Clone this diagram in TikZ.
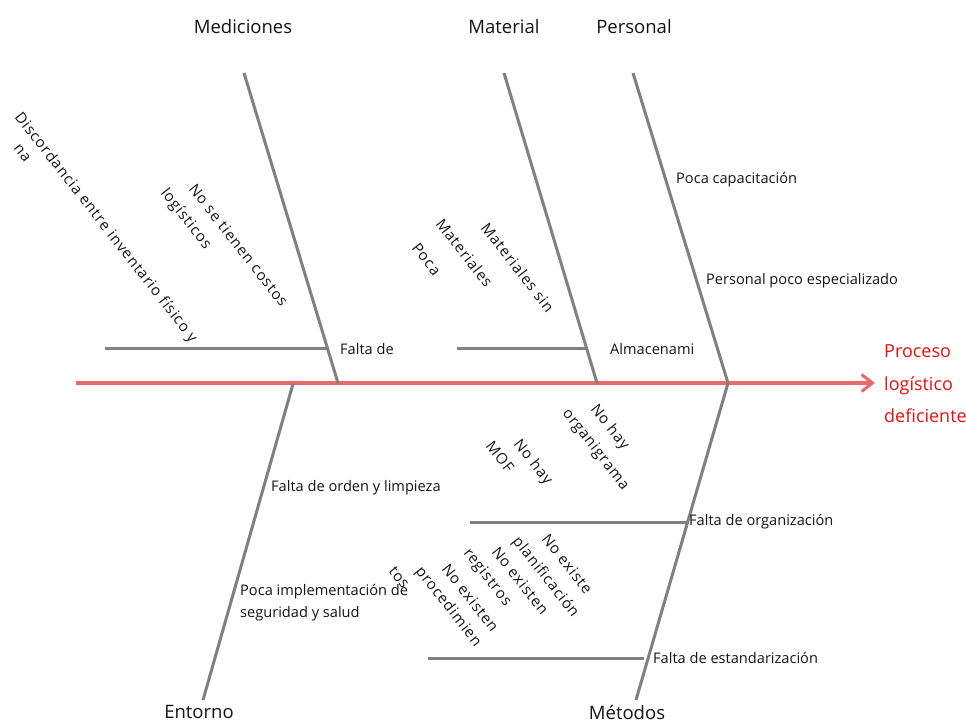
\documentclass[tikz,border=0pt]{standalone}
\usepackage{fontspec}
\setmainfont{Open Sans}
\usetikzlibrary{arrows.meta}
\definecolor{bonegray}{RGB}{128,128,128}
\definecolor{spinered}{RGB}{232,106,106}
\definecolor{effectred}{RGB}{226,18,18}
\definecolor{ink}{RGB}{20,20,20}
\tikzset{
  bone/.style={draw=bonegray, line width=3pt},
  spine/.style={draw=spinered, line width=3.2pt, -{Straight Barb[length=11pt,width=17pt,line width=3pt]}},
  catlabel/.style={font=\fontsize{18.5}{22}\selectfont, text=ink, inner sep=0pt},
  cause/.style={font=\fontsize{14.6}{22}\selectfont, text=ink, inner sep=0pt, anchor=west, align=left},
  subcause/.style={font=\fontsize{15}{17}\selectfont\addfontfeature{LetterSpace=6}, text=ink, inner sep=0pt, anchor=base west, rotate=-52},
  effect/.style={font=\fontsize{18}{32.5}\selectfont, text=effectred, inner sep=0pt, anchor=west, align=left}
}
\begin{document}
\begin{tikzpicture}[x=1pt,y=-1pt]
\useasboundingbox (0,0) rectangle (966,724);

% joints and bone ends
\coordinate (tail) at (76,383);
\coordinate (head) at (875,383);
\coordinate (medTop) at (244,73);
\coordinate (medJ) at (338,383);
\coordinate (matTop) at (504,73);
\coordinate (matJ) at (597,383);
\coordinate (perTop) at (633,73);
\coordinate (perJ) at (728,383);
\coordinate (entJ) at (293,384);
\coordinate (entEnd) at (203,700);
\coordinate (metJ) at (728,383);
\coordinate (metEnd) at (636,700);

% secondary bones
\coordinate (medSubL) at (105,348);
\coordinate (medSubR) at (328,348);
\coordinate (matSubL) at (457,348);
\coordinate (matSubR) at (587,348);
\coordinate (orgSubL) at (470,522);
\coordinate (orgSubR) at (688,522);
\coordinate (estSubL) at (428,658);
\coordinate (estSubR) at (644,658);

% main spine
\draw[spine] (tail) -- (head);

% category bones
\draw[bone] (medTop) -- (medJ);
\draw[bone] (matTop) -- (matJ);
\draw[bone] (perTop) -- (perJ);
\draw[bone] (entJ) -- (entEnd);
\draw[bone] (metJ) -- (metEnd);

\draw[bone] (medSubL) -- (medSubR);
\draw[bone] (matSubL) -- (matSubR);
\draw[bone] (orgSubL) -- (orgSubR);
\draw[bone] (estSubL) -- (estSubR);

% category labels
\node[catlabel] (lMed) at (243,27) {Mediciones};
\node[catlabel] (lMat) at (504,27) {Material};
\node[catlabel] (lPer) at (634,27) {Personal};
\node[catlabel] (lEnt) at (199,712) {Entorno};
\node[catlabel] (lMet) at (627,712) {Métodos};

% effect
\node[effect] (efecto) at (884,384) {Proceso\\logístico\\deficiente};

% causes
\node[cause] (cMed) at (340,349) {Falta de};
\node[cause] (cMat) at (610,349) {Almacenami};
\node[cause] (cPer1) at (676,180) {Poca capacitación};
\node[cause] (cPer2) at (706,281) {Personal poco especializado};
\node[cause] (cEnt1) at (271,488) {Falta de orden y limpieza};
\node[cause] (cEnt2) at (240,603) {Poca implementación de\\seguridad y salud};
\node[cause] (cMet1) at (689,522) {Falta de organización};
\node[cause] (cMet2) at (653,658) {Falta de estandarización};

% sub-causes (slanted)
\node[subcause] (sMed1) at (14,117) {Discordancia entre inventario físico y};
\node[subcause] (sMed2) at (13,148) {na};
\node[subcause] (sMed3) at (188,189) {No se tienen costos};
\node[subcause] (sMed4) at (160,193) {logísticos};

\node[subcause] (sMat1) at (480,228) {Materiales sin};
\node[subcause] (sMat2) at (435,224) {Materiales};
\node[subcause] (sMat3) at (411,248) {Poca};

\node[subcause] (sOrg1) at (590,409) {No hay};
\node[subcause] (sOrg2) at (562,413) {organigrama};
\node[subcause] (sOrg3) at (513,444) {No hay};
\node[subcause] (sOrg4) at (485,446) {MOF};

\node[subcause] (sEst1) at (541,539) {No existe};
\node[subcause] (sEst2) at (512,541) {planificación};
\node[subcause] (sEst3) at (491,552) {No existen};
\node[subcause] (sEst4) at (463,553) {registros};
\node[subcause] (sEst5) at (441,569) {No existen};
\node[subcause] (sEst6) at (415,571) {procedimien};
\node[subcause] (sEst7) at (388,571) {tos};
\end{tikzpicture}
\end{document}
